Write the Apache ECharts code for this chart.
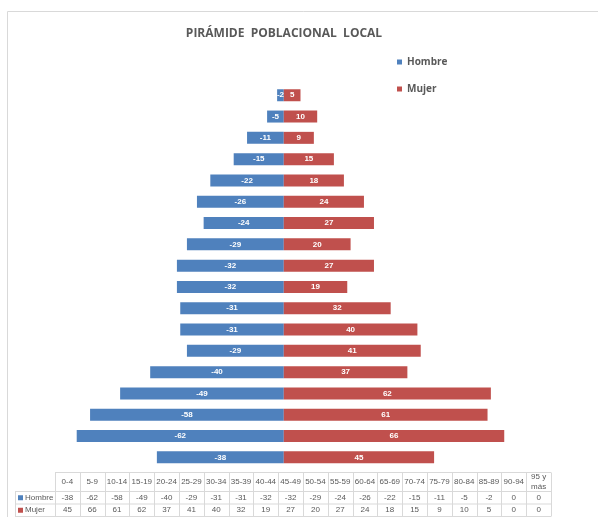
<!DOCTYPE html>
<html>
<head>
<meta charset="utf-8">
<script src="https://cdn.jsdelivr.net/npm/echarts@6/dist/echarts.min.js"></script>
<style>
    html, body { margin: 0; padding: 0; background: #fff; }
    #piramide { width: 598px; height: 517px; }
</style>
</head>
<body>
<div id="piramide"></div>
<script>
// grupos de edad (de abajo hacia arriba)
var grupos = ['0-4', '5-9', '10-14', '15-19', '20-24', '25-29', '30-34', '35-39', '40-44', '45-49',
              '50-54', '55-59', '60-64', '65-69', '70-74', '75-79', '80-84', '85-89', '90-94', '95 y más'];
var hombre = [-38, -62, -58, -49, -40, -29, -31, -31, -32, -32, -29, -24, -26, -22, -15, -11, -5, -2, 0, 0];
var mujer = [45, 66, 61, 62, 37, 41, 40, 32, 19, 27, 20, 27, 24, 18, 15, 9, 10, 5, 0, 0];

var colorHombre = '#4F81BD';
var colorMujer = '#C0504D';
var gris = '#595959';
var linea = '#d9d9d9';

// area del grafico (la tabla usa las mismas columnas)
var gridLeft = 55, gridRight = 47, gridTop = 42, gridBottom = 49;
var anchoTabla = 598 - gridLeft - gridRight;
var colW = anchoTabla / grupos.length;

function initPiramide() {
    var chart = echarts.init(document.getElementById('piramide'));

    // tabla de datos debajo del grafico
    var tabla = [];
    var yTop = 472.5, yHead = 491.5, yMid = 504, yBot = 516.5;
    var fuente = '8px "Liberation Sans", sans-serif';

    // lineas horizontales
    tabla.push({ type: 'line', shape: { x1: gridLeft, y1: yTop, x2: gridLeft + anchoTabla, y2: yTop }, style: { stroke: linea } });
    [yHead, yMid, yBot].forEach(function (y) {
        tabla.push({ type: 'line', shape: { x1: 15, y1: y, x2: gridLeft + anchoTabla, y2: y }, style: { stroke: linea } });
    });
    // lineas verticales
    for (var i = 0; i <= grupos.length; i++) {
        var x = Math.round(gridLeft + i * colW) + 0.5;
        tabla.push({ type: 'line', shape: { x1: x, y1: yTop, x2: x, y2: yBot }, style: { stroke: linea } });
    }
    tabla.push({ type: 'line', shape: { x1: 15.5, y1: yHead, x2: 15.5, y2: yBot }, style: { stroke: linea } });

    grupos.forEach(function (g, i) {
        var cx = gridLeft + (i + 0.5) * colW;
        var head = g === '95 y más' ? '95 y\nmás' : g;
        tabla.push({ type: 'text', style: { text: head, x: cx, y: (yTop + yHead) / 2, align: 'center', verticalAlign: 'middle', font: fuente, fill: gris, lineHeight: 10 } });
        tabla.push({ type: 'text', style: { text: String(hombre[i]), x: cx, y: (yHead + yMid) / 2, align: 'center', verticalAlign: 'middle', font: fuente, fill: gris } });
        tabla.push({ type: 'text', style: { text: String(mujer[i]), x: cx, y: (yMid + yBot) / 2, align: 'center', verticalAlign: 'middle', font: fuente, fill: gris } });
    });
    // claves de la tabla
    tabla.push({ type: 'rect', shape: { x: 18, y: (yHead + yMid) / 2 - 2.5, width: 5, height: 5 }, style: { fill: colorHombre } });
    tabla.push({ type: 'text', style: { text: 'Hombre', x: 25, y: (yHead + yMid) / 2, align: 'left', verticalAlign: 'middle', font: fuente, fill: gris } });
    tabla.push({ type: 'rect', shape: { x: 18, y: (yMid + yBot) / 2 - 2.5, width: 5, height: 5 }, style: { fill: colorMujer } });
    tabla.push({ type: 'text', style: { text: 'Mujer', x: 25, y: (yMid + yBot) / 2, align: 'left', verticalAlign: 'middle', font: fuente, fill: gris } });

    // borde del area del grafico
    tabla.push({ type: 'rect', shape: { x: 7.5, y: 11.5, width: 600, height: 520 }, style: { fill: 'none', stroke: linea }, z: -1 });

    var etiqueta = {
        show: true,
        position: 'inside',
        color: '#fff',
        fontSize: 8,
        fontWeight: 'bold',
        fontFamily: 'Liberation Sans',
        formatter: function (p) { return p.value === 0 ? '' : p.value; }
    };

    var option = {
        animation: false,
        title: {
            text: 'PIRÁMIDE  POBLACIONAL  LOCAL',
            left: 279,
            textAlign: 'center',
            top: 23,
            textStyle: { color: gris, fontSize: 12, fontWeight: 'bold', fontFamily: 'Open Sans' }
        },
        legend: {
            orient: 'vertical',
            left: 397,
            top: 57,
            padding: 0,
            itemGap: 17,
            itemWidth: 5,
            itemHeight: 5,
            icon: 'rect',
            textStyle: { color: gris, fontSize: 10, fontWeight: 'bold', fontFamily: 'Open Sans' },
            data: ['Hombre', 'Mujer']
        },
        grid: { left: gridLeft, right: gridRight, top: gridTop, bottom: gridBottom },
        xAxis: {
            type: 'value',
            min: -68.5,
            max: 80,
            show: false
        },
        yAxis: {
            type: 'category',
            data: grupos,
            show: false
        },
        series: [
            {
                name: 'Hombre',
                type: 'bar',
                data: hombre,
                barWidth: 12,
                barGap: '-100%',
                itemStyle: { color: colorHombre },
                label: etiqueta
            },
            {
                name: 'Mujer',
                type: 'bar',
                data: mujer,
                barWidth: 12,
                itemStyle: { color: colorMujer },
                label: etiqueta
            }
        ],
        graphic: tabla
    };
    chart.setOption(option);
}

initPiramide();
</script>
</body>
</html>
